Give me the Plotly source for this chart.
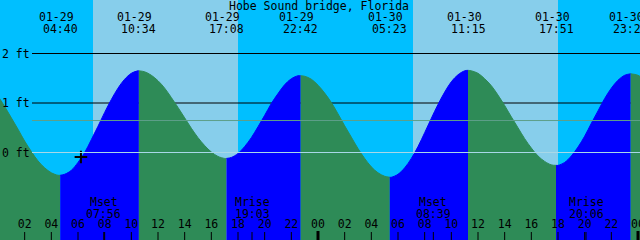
import plotly.graph_objects as go

# ---------------- data ----------------
title = "Hobe Sound bridge, Florida"

curve_hours = [0, 0.5, 1, 1.5, 2, 2.5, 3, 3.5, 4, 4.5, 4.667,
               5, 5.5, 6, 6.5, 7, 7.5, 8, 8.5, 9, 9.5, 10, 10.5, 10.567,
               11, 11.5, 12, 12.5, 13, 13.5, 14, 14.5, 15, 15.5, 16, 16.5, 17, 17.133,
               17.5, 18, 18.5, 19, 19.5, 20, 20.5, 21, 21.5, 22, 22.5, 22.7,
               23, 23.5, 24, 24.5, 25, 25.5, 26, 26.5, 27, 27.5, 28, 28.5, 29, 29.383,
               29.5, 30, 30.5, 31, 31.5, 32, 32.5, 33, 33.5, 34, 34.5, 35, 35.25,
               35.5, 36, 36.5, 37, 37.5, 38, 38.5, 39, 39.5, 40, 40.5, 41, 41.5, 41.85,
               42, 42.5, 43, 43.5, 44, 44.5, 45, 45.5, 46, 46.5, 47, 47.45,
               48, 48.5]
curve_levels = [1.14, 0.93, 0.70, 0.47, 0.23, 0.02, -0.17, -0.31, -0.41, -0.46, -0.46,
                -0.44, -0.36, -0.20, 0.00, 0.26, 0.53, 0.81, 1.07, 1.30, 1.48, 1.60, 1.65, 1.65,
                1.63, 1.56, 1.45, 1.30, 1.11, 0.91, 0.70, 0.49, 0.30, 0.14, 0.01, -0.08, -0.12, -0.12,
                -0.10, -0.02, 0.12, 0.30, 0.52, 0.75, 0.99, 1.19, 1.37, 1.49, 1.55, 1.55,
                1.54, 1.48, 1.36, 1.20, 1.01, 0.78, 0.54, 0.31, 0.08, -0.12, -0.29, -0.41, -0.48, -0.50,
                -0.50, -0.44, -0.31, -0.12, 0.12, 0.40, 0.69, 0.97, 1.22, 1.43, 1.57, 1.65, 1.66,
                1.65, 1.60, 1.49, 1.35, 1.16, 0.95, 0.72, 0.50, 0.28, 0.09, -0.07, -0.18, -0.25, -0.26,
                -0.26, -0.20, -0.07, 0.11, 0.33, 0.59, 0.84, 1.09, 1.30, 1.46, 1.56, 1.59,
                1.56, 1.47]

tide_hours = [4.667, 10.567, 17.133, 22.7, 29.383, 35.25, 41.85, 47.45]
tide_dates = ["01-29", "01-29", "01-29", "01-29", "01-30", "01-30", "01-30", "01-30"]
tide_times = ["04:40", "10:34", "17:08", "22:42", "05:23", "11:15", "17:51", "23:27"]

sunrise_hours = [7.125, 31.125]
sunset_hours = [18.0, 42.0]

moon_hours = [7.933, 19.05, 32.65, 44.1]
moon_names = ["Mset", "Mrise", "Mset", "Mrise"]
moon_times = ["07:56", "19:03", "08:39", "20:06"]

tick_hours = list(range(0, 49, 2))
tick_labels = ["%02d" % (h % 24) for h in tick_hours]
midnight_hours = [24, 48]

level_lines = [2, 1]
level_labels = ["2 ft", "1 ft", "0 ft"]
level_label_values = [2, 1, 0]
datum_level = 0
mean_level = 0.646

now_hour = 6.22
now_level = -0.09

# ---------------- style ----------------
NIGHT = "#00BFFF"
DAY = "#87CEEB"
RISE = "#0000FF"
FALL = "#2E8B57"
FONT = dict(family="DejaVu Sans Mono", size=11.5, color="black")
W, H = 640, 240
XR = [0.15, 48.15]
YR = [-1.7677, 3.0808]


def py(px):
    return 1 - px / H


fig = go.Figure()

# tide fills, split at each high/low
bounds = [curve_hours[0]] + tide_hours + [curve_hours[-1]]
for a, b in zip(bounds[:-1], bounds[1:]):
    xs = [h for h in curve_hours if a <= h <= b]
    ys = [l for h, l in zip(curve_hours, curve_levels) if a <= h <= b]
    if len(xs) < 2:
        continue
    col = RISE if ys[-1] > ys[0] else FALL
    fig.add_trace(go.Scatter(x=[a, b], y=[-2, -2], mode="lines",
                             line=dict(width=0), hoverinfo="skip"))
    fig.add_trace(go.Scatter(x=xs, y=ys, mode="lines",
                             line=dict(color=col, width=1, shape="spline"),
                             fill="tonexty", fillcolor=col, hoverinfo="skip"))

# current-time cross
fig.add_trace(go.Scatter(x=[now_hour], y=[now_level], mode="markers",
                         marker=dict(symbol="cross-thin", size=9,
                                     line=dict(color="black", width=2)),
                         hoverinfo="skip"))

# hour labels (text trace so the clipped 00 at the edge is drawn)
fig.add_trace(go.Scatter(x=tick_hours, y=[YR[0] + (YR[1] - YR[0]) * py(225.5)] * len(tick_hours),
                         mode="text", text=tick_labels, textfont=FONT,
                         textposition="middle center", cliponaxis=False,
                         hoverinfo="skip"))

shapes = []
# day backgrounds
for sr, ss in zip(sunrise_hours, sunset_hours):
    shapes.append(dict(type="rect", xref="x", yref="paper", x0=sr, x1=ss, y0=0, y1=1,
                       fillcolor=DAY, line=dict(width=0), layer="below"))
# black level lines (behind tide)
for lv in level_lines:
    shapes.append(dict(type="line", xref="paper", yref="y", x0=32 / W, x1=1, y0=lv, y1=lv,
                       line=dict(color="black", width=1), layer="below"))
# mean and datum lines (in front)
shapes.append(dict(type="line", xref="paper", yref="y", x0=32 / W, x1=1, y0=mean_level, y1=mean_level,
                   line=dict(color="#5E9F8A", width=1), layer="above"))
shapes.append(dict(type="line", xref="paper", yref="y", x0=32 / W, x1=1, y0=datum_level, y1=datum_level,
                   line=dict(color="#A8D8E8", width=1), layer="above"))
# hour ticks
for h in tick_hours:
    shapes.append(dict(type="line", xref="x", yref="paper", x0=h, x1=h, y0=0, y1=8 / H,
                       line=dict(color="black", width=1), layer="above"))
for h in midnight_hours:
    shapes.append(dict(type="line", xref="x", yref="paper", x0=h, x1=h, y0=0, y1=9 / H,
                       line=dict(color="black", width=3), layer="above"))
for h in moon_hours:
    shapes.append(dict(type="line", xref="x", yref="paper", x0=h, x1=h, y0=0, y1=8 / H,
                       line=dict(color="black", width=1), layer="above"))

ann = []
ann.append(dict(text=title, xref="paper", yref="paper", x=319 / W, y=py(6),
                xanchor="center", yanchor="middle", showarrow=False, font=FONT))
for h, d, t in zip(tide_hours, tide_dates, tide_times):
    ann.append(dict(text=d, xref="x", yref="paper", x=h, y=py(17), xshift=-4,
                    xanchor="center", yanchor="middle", showarrow=False, font=FONT))
    ann.append(dict(text=t, xref="x", yref="paper", x=h, y=py(29),
                    xanchor="center", yanchor="middle", showarrow=False, font=FONT))
for h, n, t in zip(moon_hours, moon_names, moon_times):
    ann.append(dict(text=n, xref="x", yref="paper", x=h, y=py(201.5),
                    xanchor="center", yanchor="middle", showarrow=False, font=FONT))
    ann.append(dict(text=t, xref="x", yref="paper", x=h, y=py(213.5),
                    xanchor="center", yanchor="middle", showarrow=False, font=FONT))
for lv, lab in zip(level_label_values, level_labels):
    ann.append(dict(text=lab, xref="paper", yref="y", x=0, y=lv,
                    xanchor="left", yanchor="middle", showarrow=False, font=FONT))

fig.update_layout(
    width=W, height=H, margin=dict(l=0, r=0, t=0, b=0),
    paper_bgcolor=NIGHT, plot_bgcolor=NIGHT, showlegend=False,
    xaxis=dict(range=XR, visible=False, fixedrange=True),
    yaxis=dict(range=YR, visible=False, fixedrange=True),
    shapes=shapes, annotations=ann,
)

fig.write_html("out.html", config={"displayModeBar": False})
